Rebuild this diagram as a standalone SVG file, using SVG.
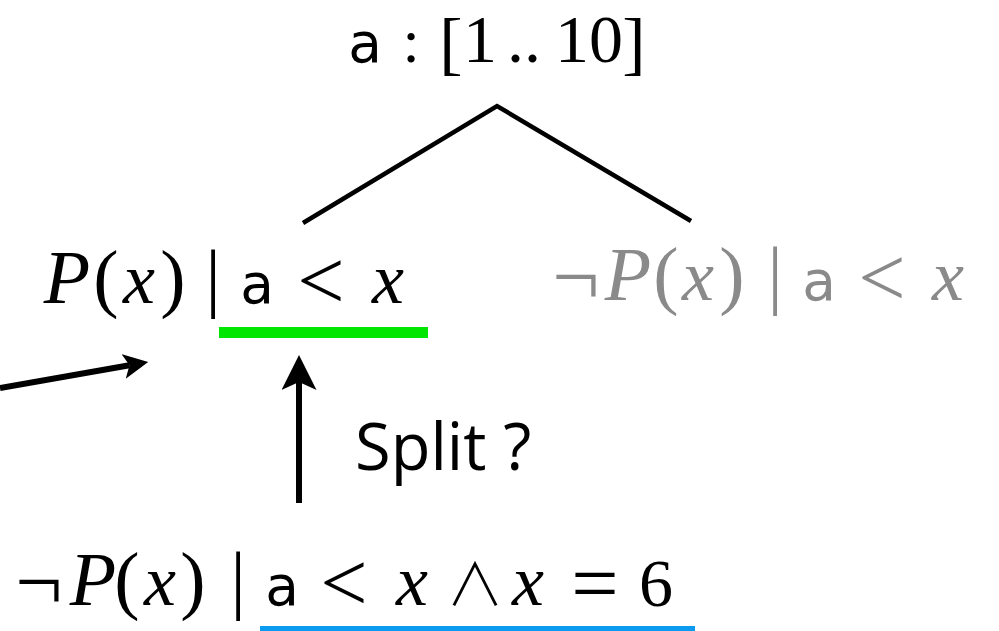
<svg xmlns="http://www.w3.org/2000/svg" width="999" height="631" viewBox="0 0 999 631">
<style>
  .m { font-family: "Liberation Serif", "Times New Roman", serif; font-size: 76px; text-anchor: middle; }
  .P { font-style: italic; font-size: 76px; }
  .x { font-style: italic; font-size: 72px; }
  .op { font-size: 84px; }
  .d { font-size: 68px; }
  .br { font-size: 70px; }
  .col { font-size: 62px; }
  .s { font-family: "DejaVu Sans", "Liberation Sans", sans-serif; font-size: 55px; font-style: normal; }
  .and { font-family: "Noto Sans CJK JP", "DejaVu Serif", serif; font-weight: 300; font-size: 58px; }
  .ink { fill: #000000; }
  .grey { fill: #8a8a8a; }
  .lbl { font-family: "Open Sans", "Noto Sans", sans-serif; font-size: 65px; fill: #000000; }
  .edge { stroke: #000000; stroke-width: 4.5; fill: none; stroke-linecap: butt; }
  .arrow { stroke: #000000; stroke-width: 6; fill: none; }
</style>
<defs>
  <marker id="headLg" markerUnits="userSpaceOnUse" orient="auto" markerWidth="36" markerHeight="36" refX="8" refY="17.5" viewBox="0 0 36 36">
    <path d="M0,0 L35,17.5 L0,35 L8,17.5 Z" fill="#000000"/>
  </marker>
  <marker id="headSm" markerUnits="userSpaceOnUse" orient="auto" markerWidth="26" markerHeight="26" refX="6" refY="12.5" viewBox="0 0 26 26">
    <path d="M0,0 L25,12.5 L0,25 L6,12.5 Z" fill="#000000"/>
  </marker>
</defs>

<g id="connectors">
  <polyline class="edge" points="303,223 497,106 691,221"/>
  <line class="arrow" x1="0" y1="388" x2="129.5" y2="365.3" marker-end="url(#headSm)"/>
  <line class="arrow" x1="299" y1="503" x2="299" y2="382" marker-end="url(#headLg)"/>
</g>

<g id="node-root">
  <text class="m ink" y="66"><tspan class="s" x="365" y="62">a</tspan><tspan class="col" x="411" y="62">:</tspan><tspan class="br" x="451" y="67">[</tspan><tspan class="d" x="480" y="62">1</tspan><tspan class="d" x="524">..</tspan><tspan class="d" x="589">10</tspan><tspan class="br" x="634" y="67">]</tspan></text>
</g>

<g id="node-left">
  <text class="m ink" y="303"><tspan class="P" x="67">P</tspan><tspan x="106">(</tspan><tspan class="x" x="139">x</tspan><tspan x="173">)</tspan><tspan x="213">|</tspan><tspan class="s" x="257">a</tspan><tspan class="op" x="321" y="309">&lt;</tspan><tspan class="x" x="388" y="303">x</tspan></text>
  <rect x="219" y="327" width="209" height="11" fill="#00e600"/>
</g>

<g id="node-right">
  <text class="m grey" y="300"><tspan class="op" x="576" y="305">¬</tspan><tspan class="P" x="628" y="300">P</tspan><tspan x="666">(</tspan><tspan class="x" x="698">x</tspan><tspan x="732">)</tspan><tspan x="775">|</tspan><tspan class="s" x="819">a</tspan><tspan class="op" x="882" y="306">&lt;</tspan><tspan class="x" x="948" y="300">x</tspan></text>
</g>

<g id="node-bottom">
  <text class="m ink" y="605"><tspan class="op" x="39" y="610">¬</tspan><tspan class="P" x="93" y="605">P</tspan><tspan x="127">(</tspan><tspan class="x" x="160">x</tspan><tspan x="193">)</tspan><tspan x="238">|</tspan><tspan class="s" x="282">a</tspan><tspan class="op" x="344" y="611">&lt;</tspan><tspan class="x" x="412" y="605">x</tspan><tspan class="and" x="475">∧</tspan><tspan class="x" x="528">x</tspan><tspan class="op" x="595" y="612">=</tspan><tspan class="d" x="656" y="606">6</tspan></text>
  <rect x="260" y="626" width="435" height="6" fill="#0a9af0"/>
</g>

<g id="label-split">
  <text class="lbl" x="355" y="470">Split ?</text>
</g>
</svg>
